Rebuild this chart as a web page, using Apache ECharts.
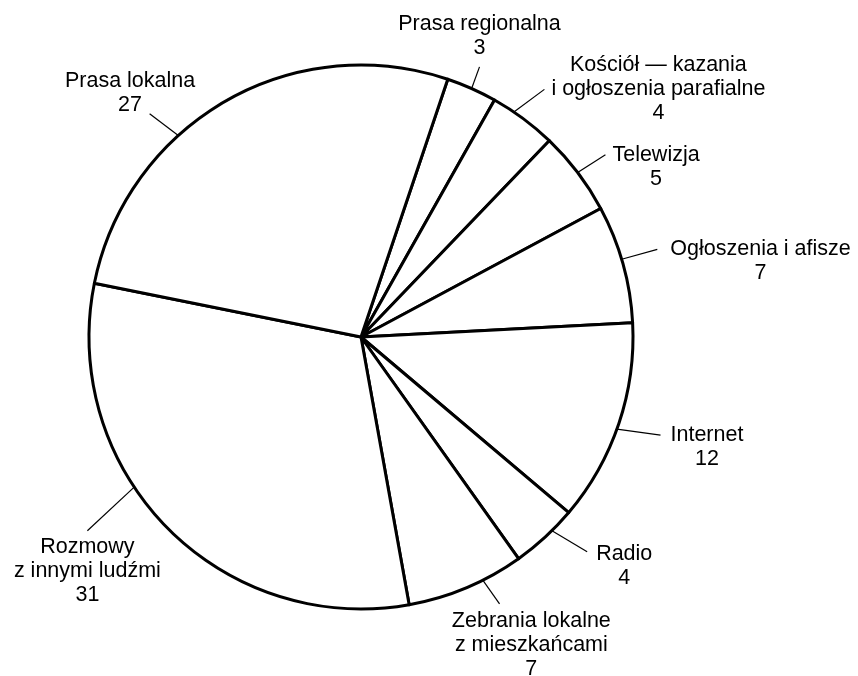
<!DOCTYPE html>
<html>
<head>
<meta charset="utf-8">
<script src="https://cdn.jsdelivr.net/npm/echarts@6/dist/echarts.min.js"></script>
<style>
  html, body { margin: 0; padding: 0; background: #fff; }
  #pie { width: 858px; height: 676px; }
</style>
</head>
<body>
<div id="pie"></div>
<script>
const categories = [
  'Prasa regionalna',
  'Kościół — kazania\ni ogłoszenia parafialne',
  'Telewizja',
  'Ogłoszenia i afisze',
  'Internet',
  'Radio',
  'Zebrania lokalne\nz mieszkańcami',
  'Rozmowy\nz innymi ludźmi',
  'Prasa lokalna'
]
const values = [3, 4, 5, 7, 12, 4, 7, 31, 27]

// leader lines: turn of the start point away from the slice mid-angle (deg),
// direction of the line (screen deg), and its length (px)
const lineTurn = [0, -2.4, 0, -1, 1.2, -2, -3.8, 10.9, -12.2]
const lineDir = [-70, -36.6, -32.7, -15.5, 7.8, 31, 54.7, 137, -142.8]
const lineLen = [23, 38, 33, 37, 44, 41, 29, 64, 36]
// where the line end touches the label box: [fraction of width, fraction of height, dx, dy]
const labelAnchor = [
  [0.5, 1, 0, -7],
  [0, 0.5, 7, 0],
  [0, 0.25, 7, 0],
  [0, 0.25, 13, 0],
  [0, 0.25, 10, 0],
  [0, 0.25, 9, 2],
  [0.3, 0, 0, 5],
  [0.5, 0, 0, 4],
  [0.65, 0.92, 0, 0]
]

const center = [361, 337]

function placeLabel(params) {
  const pts = params.labelLinePoints
  if (!pts) return {}
  const i = params.dataIndex
  const dx = pts[0][0] - center[0]
  const dy = pts[0][1] - center[1]
  const r = Math.sqrt(dx * dx + dy * dy)
  const t = lineTurn[i] * Math.PI / 180
  const ux = (dx * Math.cos(t) - dy * Math.sin(t)) / r
  const uy = (dx * Math.sin(t) + dy * Math.cos(t)) / r
  const start = [center[0] + ux * r, center[1] + uy * r]
  const a = lineDir[i] * Math.PI / 180
  const end = [start[0] + Math.cos(a) * lineLen[i], start[1] + Math.sin(a) * lineLen[i]]
  const w = params.labelRect.width
  const h = params.labelRect.height
  const an = labelAnchor[i]
  const left = end[0] + an[2] - an[0] * w
  const top = end[1] + an[3] - an[1] * h
  return {
    x: left + w / 2,
    y: top,
    align: 'center',
    verticalAlign: 'top',
    labelLinePoints: [start, end, end]
  }
}

const chart = echarts.init(document.getElementById('pie'))
chart.setOption({
  animation: false,
  backgroundColor: '#fff',
  series: [
    {
      type: 'pie',
      center: center,
      radius: 272,
      startAngle: 71.4,
      clockwise: true,
      avoidLabelOverlap: false,
      minShowLabelAngle: 0,
      silent: true,
      itemStyle: {
        color: '#fff',
        borderColor: '#000',
        borderWidth: 3
      },
      label: {
        show: true,
        position: 'outside',
        formatter: '{b}\n{c}',
        fontFamily: 'Liberation Sans, Arial, sans-serif',
        fontSize: 21.5,
        lineHeight: 24,
        color: '#000',
        align: 'center'
      },
      labelLine: {
        show: true,
        length: 30,
        length2: 0,
        lineStyle: { color: '#000', width: 1.2 }
      },
      labelLayout: placeLabel,
      data: categories.map((name, i) => ({ name: name, value: values[i] }))
    }
  ]
})
</script>
</body>
</html>
